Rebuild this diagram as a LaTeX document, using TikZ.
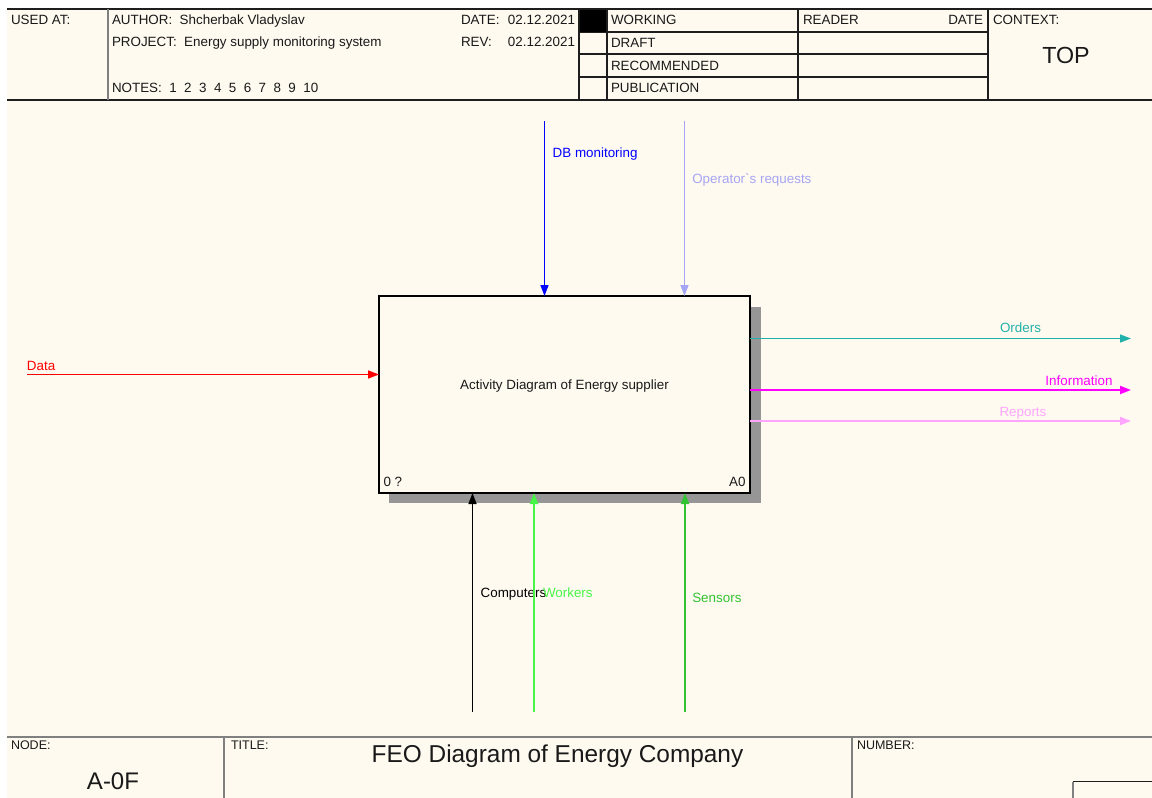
\documentclass[tikz,border=0pt]{standalone}
\usepackage{fontspec}
\setmainfont{Liberation Sans}
\usetikzlibrary{arrows.meta}
\definecolor{bg}{RGB}{255,250,240}
\definecolor{txt}{RGB}{25,25,25}
\definecolor{frame}{RGB}{30,30,30}
\definecolor{framegray}{RGB}{128,128,128}
\definecolor{shadowc}{RGB}{150,150,150}
\definecolor{datac}{RGB}{255,0,0}
\definecolor{dbc}{RGB}{0,0,255}
\definecolor{opc}{RGB}{165,165,245}
\definecolor{ordc}{RGB}{32,178,170}
\definecolor{infc}{RGB}{255,0,255}
\definecolor{repc}{RGB}{255,165,255}
\definecolor{compc}{RGB}{0,0,0}
\definecolor{workc}{RGB}{70,245,70}
\definecolor{sensc}{RGB}{50,195,50}
\begin{document}
\begin{tikzpicture}[x=1pt,y=-1pt,
  every node/.style={inner sep=0pt, outer sep=0pt, text=txt},
  base/.style={font=\fontsize{13.4}{16}\selectfont},
  lbl/.style={base, anchor=base west},
  lblr/.style={base, anchor=base east},
  small/.style={font=\fontsize{12.5}{14}\selectfont, anchor=base west},
  flow/.style={line width=1.5pt, -{Triangle[length=11pt,width=8pt]}},
  hline/.style={draw=frame, line width=1.3pt},
  gline/.style={draw=framegray, line width=1.5pt}]
\useasboundingbox (0,0) rectangle (1152,798);
% background
\fill[bg] (7,9) rectangle (1152,798);
% ---------- header ----------
\draw[frame, line width=2pt] (7,9) -- (1152,9);
\draw[frame, line width=1.5pt] (7,100) -- (1152,100);
\draw[gline] (108,9) -- (108,100);
\draw[hline] (579,9) -- (579,100);
\draw[hline] (607,9) -- (607,100);
\draw[hline] (798,9) -- (798,100);
\draw[hline] (988,9) -- (988,100);
\draw[hline] (579,32) -- (988,32);
\draw[hline] (579,54) -- (988,54);
\draw[hline] (579,77) -- (988,77);
\fill[black] (580,10) rectangle (606,32);
\node[lbl] (usedat) at (11,24) {USED AT:};
\node[lbl] (author) at (112,24) {AUTHOR:\ \ Shcherbak Vladyslav};
\node[lbl] (project) at (112,46) {PROJECT:\ \ Energy supply monitoring system};
\node[lbl] (notes) at (112,92) {NOTES:\ \ 1\ \ 2\ \ 3\ \ 4\ \ 5\ \ 6\ \ 7\ \ 8\ \ 9\ \ 10};
\node[lbl] (datek) at (461,24) {DATE:};
\node[lblr] (datev) at (575,24) {02.12.2021};
\node[lbl] (revk) at (461,46) {REV:};
\node[lblr] (revv) at (575,46) {02.12.2021};
\node[lbl] (working) at (611,24) {WORKING};
\node[lbl] (draft) at (611,47) {DRAFT};
\node[lbl] (recomm) at (611,70) {RECOMMENDED};
\node[lbl] (public) at (611,92) {PUBLICATION};
\node[lbl] (reader) at (803,24) {READER};
\node[lblr] (rdate) at (983,24) {DATE};
\node[lbl] (context) at (993,24) {CONTEXT:};
\node[anchor=base, font=\fontsize{23.3}{26}\selectfont] (top) at (1066,63.5) {TOP};
% ---------- footer ----------
\draw[gline] (7,737) -- (1152,737);
\draw[gline] (224,737) -- (224,798);
\draw[gline] (852,737) -- (852,798);
\draw[gline] (1073,798) -- (1073,781.5);
\draw[frame, line width=1pt] (1073,781.5) -- (1152,781.5);
\node[small] (nodek) at (11,749) {NODE:};
\node[anchor=base, font=\fontsize{24}{26}\selectfont] (nodev) at (113,789) {A-0F};
\node[small] (titlek) at (231,749) {TITLE:};
\node[anchor=base, font=\fontsize{24.4}{27}\selectfont] (titlev) at (557.5,762) {FEO Diagram of Energy Company};
\node[small] (numberk) at (857,749) {NUMBER:};
% ---------- activity box ----------
\fill[shadowc] (750,306.7) rectangle (761,502.7);
\fill[shadowc] (389.3,492) rectangle (761,502.7);
\node[draw=black, line width=2pt, fill=bg, minimum width=371pt, minimum height=197pt] (box) at (564.5,394.5) {};
\node[base, anchor=base] (boxtitle) at ([yshift=-93pt]box.north) {Activity Diagram of Energy supplier};
\node[base, anchor=base west] (boxnum) at (383.5,486) {0 ?};
\node[base, anchor=base east] (boxid) at (745.5,486) {A0};
% ---------- arrows ----------
\coordinate (datain) at (27,374.5);
\draw[flow, datac] (datain) -- (datain -| box.west);
\node[lbl, text=datac] (datalbl) at (27,370) {Data};

\coordinate (dbin) at (544.5,121);
\draw[flow, dbc] (dbin) -- (dbin |- box.north);
\node[lbl, text=dbc] (dblbl) at (552.7,157.5) {DB monitoring};

\coordinate (opin) at (684.5,121);
\draw[flow, opc] (opin) -- (opin |- box.north);
\node[lbl, text=opc] (oplbl) at (692.3,183) {Operator\textasciigrave s requests};

\coordinate (ordout) at (1131,338.5);
\draw[flow, ordc] (ordout -| box.east) -- (ordout);
\node[base, anchor=base, text=ordc] (ordlbl) at (1020.5,332.5) {Orders};

\coordinate (infout) at (1131,390);
\draw[flow, infc, line width=2pt] (infout -| box.east) -- (infout);
\node[lblr, text=infc] (inflbl) at (1112.5,385) {Information};

\coordinate (repout) at (1131,421);
\draw[flow, repc, line width=2pt] (repout -| box.east) -- (repout);
\node[lbl, text=repc] (replbl) at (999.5,416) {Reports};

\coordinate (compin) at (472.5,711.7);
\draw[flow, compc] (compin) -- (compin |- box.south);
\node[lbl, text=compc] (complbl) at (480.7,597.5) {Computers};

\coordinate (workin) at (534,711.7);
\draw[flow, workc, line width=2pt] (workin) -- (workin |- box.south);
\node[lbl, text=workc] (worklbl) at (543,597.5) {Workers};

\coordinate (sensin) at (685,711.7);
\draw[flow, sensc, line width=2pt] (sensin) -- (sensin |- box.south);
\node[lbl, text=sensc] (senslbl) at (692.3,602) {Sensors};
\end{tikzpicture}
\end{document}
